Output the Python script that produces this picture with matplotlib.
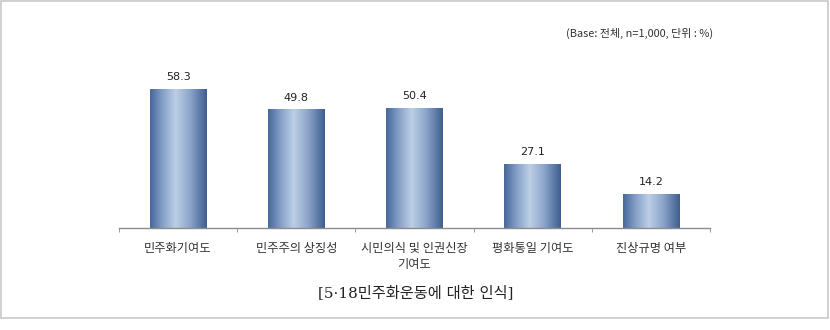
import matplotlib.pyplot as plt
import numpy as np
from matplotlib.colors import LinearSegmentedColormap
from matplotlib.patches import Rectangle

plt.rcParams['font.family'] = ['Noto Sans CJK KR', 'DejaVu Sans']

categories = ["민주화기여도", "민주주의 상징성", "시민의식 및 인권신장\n기여도", "평화통일 기여도", "진상규명 여부"]
values = [58.3, 49.8, 50.4, 27.1, 14.2]
note = "(Base: 전체, n=1,000, 단위 : %)"
caption = "[5·18민주화운동에 대한 인식]"

fig = plt.figure(figsize=(8.3, 3.3), dpi=100)
fig.patch.set_facecolor("white")

# gray frame round the picture
fig.patches.append(Rectangle((0.5 / 830, 1 - 318 / 330), 827.5 / 830, 317.5 / 330,
                             transform=fig.transFigure, fill=False,
                             edgecolor="#c8c8c8", linewidth=1.2))

ymax = 70
px_per_unit = 2.38
ax = fig.add_axes([119 / 830, 1 - 228 / 330, 591 / 830, ymax * px_per_unit / 330])

x = np.arange(len(categories))
bars = ax.bar(x, values, width=0.48, color="none", edgecolor="none")

grad = LinearSegmentedColormap.from_list("bargrad", [
    (0.0, "#47679a"), (0.2, "#7f9ac2"), (0.45, "#bccfe6"),
    (0.7, "#8da6cb"), (1.0, "#3e5e8e")])
g = np.linspace(0, 1, 256).reshape(1, -1)
for b in bars:
    x0, y0 = b.get_x(), b.get_y()
    w, h = b.get_width(), b.get_height()
    im = ax.imshow(g, cmap=grad, aspect="auto", extent=(x0, x0 + w, y0, y0 + h),
                   interpolation="bilinear", zorder=2)
    im.set_clip_path(b)

for xi, v in zip(x, values):
    ax.annotate(f"{v:.1f}", (xi, v), xytext=(0, 5), textcoords="offset points",
                ha="center", va="bottom", fontsize=8, color="#222222",
                family=["DejaVu Sans"])

ax.set_xlim(-0.5, len(categories) - 0.5)
ax.set_ylim(0, ymax)

for s in ["top", "right", "left"]:
    ax.spines[s].set_visible(False)
ax.spines["bottom"].set_color("#8c8c8c")
ax.spines["bottom"].set_linewidth(1.0)
ax.set_yticks([])

ax.set_xticks(x)
ax.set_xticklabels(categories, fontsize=8.8, color="#333333", linespacing=1.35)
ax.tick_params(axis="x", which="major", length=0, pad=10)
ax.set_xticks(np.arange(len(categories) + 1) - 0.5, minor=True)
ax.tick_params(axis="x", which="minor", length=3, direction="out", color="#8c8c8c")

fig.text(713 / 830, 1 - 33 / 330, note, ha="right", va="center",
         fontsize=7.9, color="#333333")
fig.text(416 / 830, 1 - 293 / 330, caption, ha="center", va="center",
         fontsize=11, color="#222222",
         family=["DejaVu Serif", "Noto Sans CJK KR"])

fig.savefig("out.png", dpi=100)
